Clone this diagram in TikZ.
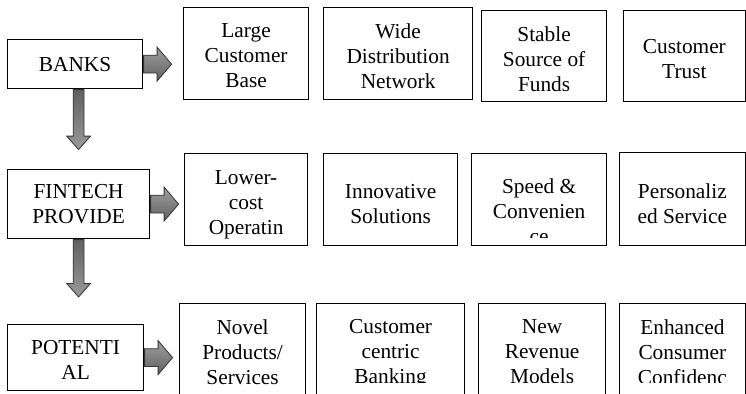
\documentclass[tikz,border=0pt]{standalone}
\usepackage{fontspec}
\setmainfont{Liberation Serif}
\usetikzlibrary{shapes.arrows,calc}

\tikzset{
  cell/.style 2 args={draw, line width=0.9pt, anchor=north west, inner sep=0pt,
    minimum width=#1*0.75pt, minimum height=#2*0.75pt},
  lead/.style 2 args={cell={#1}{#2}, align=center, font=\fontsize{16}{18.75}\selectfont},
  celltext/.style={anchor=north, align=center, inner sep=0pt, font=\fontsize{16}{18.75}\selectfont},
  fatright/.style={single arrow, draw=black!80, line width=0.6pt, anchor=tail,
    top color=black!38, bottom color=black!62, inner xsep=0pt, inner ysep=6.4pt,
    minimum width=0pt, single arrow head extend=6pt, single arrow tip angle=99,
    minimum height=21pt},
  fatdown/.style={single arrow, draw=black!80, line width=0.6pt, anchor=tail, rotate=-90,
    top color=black!62, bottom color=black!40, inner xsep=0pt, inner ysep=3.75pt,
    minimum width=0pt, single arrow head extend=4.9pt, single arrow tip angle=83,
    minimum height=#1}
}

\begin{document}
\begin{tikzpicture}[x=0.75pt,y=0.75pt,yscale=-1,xscale=1]
\useasboundingbox (0,0) rectangle (746,393);
\clip (0,0) rectangle (746,393);

\node [lead={135}{49}] (banks) at (7,39) {BANKS};
\node [lead={142}{69}] (fintech) at (7,169) {FINTECH\\PROVIDE};
\node [lead={136}{66}] (potential) at (7,324) {};
\node [celltext] (potential-t) at ($(potential.north)+(0,16)$) {POTENTI\\AL};

\node [fatright] (a-banks) at (banks.east) {};
\node [fatright] (a-fintech) at (fintech.east) {};
\node [fatright] (a-potential) at (potential.east) {};
\node [fatdown=45pt] (d-banks) at ($(banks.south)+(3.5,0)$) {};
\node [fatdown=43pt] (d-fintech) at (fintech.south) {};

\node [cell={125}{92}] (custbase) at (183,7) {};
\node [cell={149}{92}] (network) at (323,7) {};
\node [cell={125}{91}] (funds) at (481,10) {};
\node [cell={121.5}{91}] (trust) at (623,10) {};
\node [cell={123}{92}] (lowcost) at (184,153) {};
\node [cell={134}{92}] (innov) at (323,153) {};
\node [cell={135}{92}] (speed) at (471,153) {};
\node [cell={125.5}{93}] (personal) at (619,152) {};
\node [cell={126}{92}] (novel) at (179,303) {};
\node [cell={148}{92}] (centric) at (316,303) {};
\node [cell={127}{92}] (revenue) at (478,303) {};
\node [cell={125.5}{92}] (confid) at (619,303) {};

\node [celltext] (custbase-t) at ($(custbase.north)+(0,16)$) {Large\\Customer\\Base};
\node [celltext] (network-t) at ($(network.north)+(0,16)$) {Wide\\Distribution\\Network};
\node [celltext] (funds-t) at ($(funds.north)+(0,16)$) {Stable\\Source of\\Funds};
\node [celltext] (trust-t) at ($(trust.north)+(0,29)$) {Customer\\Trust};
\node [celltext] (lowcost-t) at ($(lowcost.north)+(0,17)$) {Lower-\\cost\\Operatin};
\node [celltext] (innov-t) at ($(innov.north)+(0,31)$) {Innovative\\Solutions};
\node [celltext] (personal-t) at ($(personal.north)+(0,31)$) {Personaliz\\ed Service};
\begin{scope}
\clip (speed.north west) rectangle ($(speed.south east)+(0,-9)$);
\node [celltext] (speed-t) at ($(speed.north)+(0,25.5)$) {Speed \&\\Convenien\\ce};
\end{scope}
\node [celltext] (novel-t) at ($(novel.north)+(0,16)$) {Novel\\Products/\\Services};
\begin{scope}
\clip (0,0) rectangle (746,382);
\node [celltext] (centric-t) at ($(centric.north)+(0,16)$) {Customer\\centric\\Banking};
\node [celltext] (revenue-t) at ($(revenue.north)+(0,16)$) {New\\Revenue\\Models};
\node [celltext] (confid-t) at ($(confid.north)+(0,16)$) {Enhanced\\Consumer\\Confidenc};
\end{scope}
\end{tikzpicture}
\end{document}
